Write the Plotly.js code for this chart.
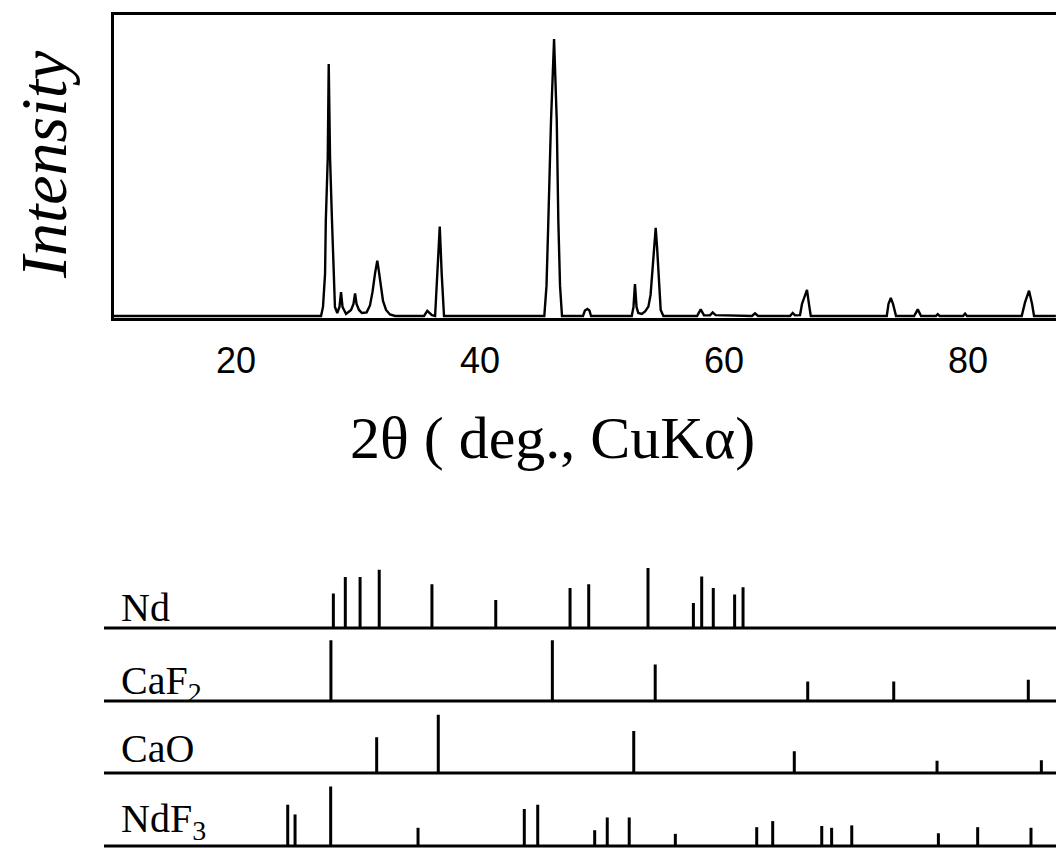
<!DOCTYPE html>
<html><head><meta charset="utf-8">
<script src="https://cdn.plot.ly/plotly-3.0.1.min.js"></script>
<style>html,body{margin:0;padding:0;background:#fff}#chart{width:1056px;height:848px}</style>
</head><body><div id="chart"></div>
<script>
// Measured XRD pattern (2θ in degrees, intensity in arbitrary units)
const twoTheta = [10.0, 26.97, 27.13, 27.30, 27.36, 27.52, 27.60, 27.71, 27.87, 27.98, 28.11, 28.30, 28.48, 28.61, 28.73,
  29.02, 29.43, 29.63, 29.76, 29.88, 30.08, 30.32, 30.71, 30.98, 31.19, 31.39, 31.58, 31.69, 31.84, 32.05, 32.30,
  32.62, 33.04, 35.41, 35.68, 35.90, 36.06, 36.32, 36.50, 36.70, 36.86, 37.05, 45.27, 45.45, 45.60, 45.82, 46.07,
  46.29, 46.42, 46.56, 46.72, 48.44, 48.60, 48.80, 48.97, 49.10, 52.44, 52.58, 52.70, 52.83, 52.97, 53.26, 53.53,
  53.80, 53.98, 54.12, 54.29, 54.40, 54.51, 54.62, 54.72, 54.81, 55.03, 57.79, 58.09, 58.36, 58.85, 59.07, 59.31,
  62.29, 62.54, 62.79, 65.41, 65.63, 65.82, 66.23, 66.39, 66.56, 66.80, 66.96, 67.11, 73.34, 73.48, 73.67, 73.85,
  74.10, 75.58, 75.88, 76.15, 77.37, 77.52, 77.67, 79.59, 79.76, 79.91, 84.40, 84.67, 85.00, 85.25, 85.41, 87.2];
const intensity = [0, 0, 3, 14, 31.5, 52.5, 83.7, 52.5, 31.5, 14, 3, 1, 3, 7.9, 3,
  0.7, 2, 4, 7.5, 4, 2, 1, 1.2, 3.5, 8, 14, 18.4, 15.5, 11, 5, 2,
  0.5, 0, 0, 1.7, 1, 0.3, 0, 14, 29.7, 14, 0, 0, 10, 31.5, 65, 92,
  65, 31.5, 10, 0, 0, 1.8, 2.3, 1.8, 0, 0, 3, 10.6, 3, 1, 0.7, 1.5,
  3.1, 7, 14.2, 24, 29.3, 23, 14.2, 6, 2, 0, 0, 2.2, 0.2, 0.2, 1.2, 0.3,
  0, 0.9, 0, 0, 1, 0.2, 0.3, 4, 6, 8.7, 4, 0, 0, 4, 6, 4,
  0, 0, 2.2, 0, 0, 0.6, 0, 0, 0.8, 0, 0, 4.5, 8.4, 4, 0, 0];

// Reference stick patterns (2θ, relative intensity %)
const ndPos   = [27.98, 28.96, 30.17, 31.74, 36.06, 41.29, 47.38, 48.91, 53.77, 57.49, 58.17, 59.12, 60.87, 61.56];
const ndInt   = [57, 84, 84, 96, 72, 46, 66, 72, 99, 41, 85, 66, 55, 67];
const caf2Pos = [27.78, 45.93, 54.36, 66.86, 73.91, 84.94];
const caf2Int = [100, 100, 60, 32, 32, 35];
const caoPos  = [31.53, 36.58, 52.60, 65.76, 77.46, 86.01];
const caoInt  = [59, 96, 69, 36, 20, 21];
const ndf3Pos = [24.24, 24.84, 27.76, 34.92, 43.63, 44.73, 49.40, 50.43, 52.23, 56.01, 62.68, 63.99, 68.01, 68.82, 70.47, 77.57, 80.79, 85.16];
const ndf3Int = [68, 52, 98, 30, 61, 68, 26, 47, 47, 20, 31, 41, 33, 30, 34, 21, 31, 30];

const phaseLabels = ['Nd', 'CaF<sub>2</sub>', 'CaO', 'NdF<sub>3</sub>'];
const tickValues = [20, 40, 60, 80];
const tickLabels = ['20', '40', '60', '80'];

const W = 1056, H = 848;
const rowBase = [220, 147, 75, 2];     // y2 units (pixels from bottom)
const labelShift = [-6, -11, -2, -4];
const stickScale = 0.607;

function sticks(pos, inten, base) {
  const x = [], y = [];
  for (let i = 0; i < pos.length; i++) {
    x.push(pos[i], pos[i], null);
    y.push(base, base + inten[i] * stickScale, null);
  }
  return {x: x, y: y, xaxis: 'x2', yaxis: 'y2', type: 'scatter', mode: 'lines',
          line: {color: '#000', width: 3}, hoverinfo: 'skip', showlegend: false};
}

const traces = [
  {x: twoTheta, y: intensity, type: 'scatter', mode: 'lines', line: {color: '#000', width: 2.4},
   xaxis: 'x', yaxis: 'y', showlegend: false},
  sticks(ndPos, ndInt, rowBase[0]),
  sticks(caf2Pos, caf2Int, rowBase[1]),
  sticks(caoPos, caoInt, rowBase[2]),
  sticks(ndf3Pos, ndf3Int, rowBase[3])
];

const xr = [9.96, 87.21];
const shapes = rowBase.map(b => ({type: 'line', xref: 'paper', yref: 'y2', x0: 104 / W, x1: 1, y0: b, y1: b,
  line: {color: '#000', width: 3}}));

const serif = 'Liberation Serif, Times New Roman, serif';
const annotations = [
  {text: '2θ ( deg., CuKα)', xref: 'paper', yref: 'paper', x: 552 / W, y: (H - 438) / H,
   xanchor: 'center', yanchor: 'middle', showarrow: false, font: {family: serif, size: 60, color: '#000'}},
  {text: '<i>Intensity</i>', xref: 'paper', yref: 'paper', x: 44 / W, y: (H - 165) / H, textangle: -90,
   xanchor: 'center', yanchor: 'middle', showarrow: false, font: {family: serif, size: 66, color: '#000'}}
];
phaseLabels.forEach((t, i) => annotations.push({text: t, xref: 'paper', yref: 'y2', x: 119 / W, y: rowBase[i] + 2,
  yshift: labelShift[i], xanchor: 'left', yanchor: 'bottom', showarrow: false,
  font: {family: serif, size: 40, color: '#000'}}));

const layout = {
  width: W, height: H, margin: {l: 0, r: 0, t: 0, b: 0}, paper_bgcolor: '#fff', plot_bgcolor: '#fff',
  showlegend: false,
  xaxis: {domain: [113.5 / W, 1], range: xr, showline: true, linewidth: 3, linecolor: '#000', mirror: true,
    ticks: 'outside', ticklen: 9, tickcolor: 'rgba(0,0,0,0)', tickvals: tickValues, ticktext: tickLabels,
    tickfont: {family: 'Liberation Sans, Arial, sans-serif', size: 36, color: '#000'},
    showgrid: false, zeroline: false, automargin: false, anchor: 'y', fixedrange: true},
  yaxis: {domain: [(H - 318) / H, (H - 15) / H], range: [-0.67, 100], showline: true, linewidth: 3, linecolor: '#000',
    showticklabels: false, ticks: '', showgrid: false, zeroline: false, automargin: false, anchor: 'x'},
  xaxis2: {domain: [113.5 / W, 1], range: xr, matches: 'x', visible: false, anchor: 'y2'},
  yaxis2: {domain: [0, 287 / H], range: [0, 287], visible: false, anchor: 'x2'},
  shapes: shapes,
  annotations: annotations
};

Plotly.newPlot('chart', traces, layout, {staticPlot: true, displayModeBar: false});
</script></body></html>
